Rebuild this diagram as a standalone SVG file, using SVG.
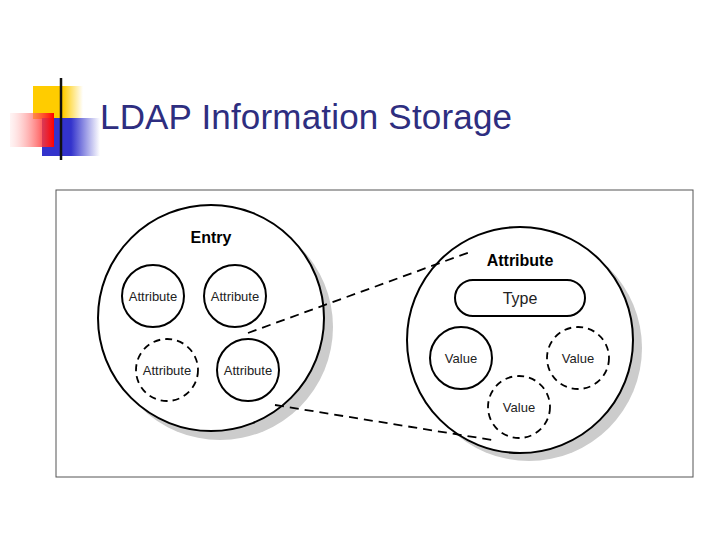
<svg xmlns="http://www.w3.org/2000/svg" width="720" height="540" viewBox="0 0 720 540">
<defs>
<linearGradient id="ln" x1="0" x2="1"><stop offset="0" stop-color="#222"/><stop offset="1" stop-color="#ddd"/></linearGradient>
<linearGradient id="rd" x1="1" x2="0"><stop offset="0" stop-color="#f00"/><stop offset="1" stop-color="#fdd" stop-opacity="0.3"/></linearGradient>
<linearGradient id="bl" x1="0" x2="1"><stop offset="0" stop-color="#33c"/><stop offset="0.5" stop-color="#33c"/><stop offset="1" stop-color="#fff"/></linearGradient>
<linearGradient id="yl" x1="0" x2="1"><stop offset="0" stop-color="#fc0"/><stop offset="0.6" stop-color="#fc0"/><stop offset="1" stop-color="#fff"/></linearGradient>
</defs>
<style>
.c{fill:#fff;stroke:#000;stroke-width:2}
.d{fill:#fff;stroke:#000;stroke-width:1.8;stroke-dasharray:7,5}
.sh{fill:#ccc}
.t{font-family:"Liberation Sans",Arial,sans-serif;font-size:13px;text-anchor:middle;fill:#222}
.tl{font-size:16px}
.b{font-family:"Liberation Sans",Arial,sans-serif;font-size:16px;font-weight:bold;text-anchor:middle}
</style>
<rect width="720" height="540" fill="#fff"/>
<g id="logo">
<rect x="33" y="86" width="50" height="33" fill="url(#yl)"/>
<rect x="42" y="118" width="58" height="38" fill="url(#bl)"/>
<rect x="10" y="113" width="44" height="34" fill="url(#rd)"/>
<line x1="61" y1="78" x2="61" y2="160" stroke="#111" stroke-width="2.5"/>
<line x1="36" y1="141" x2="700" y2="141" stroke="url(#ln)" stroke-width="2.5"/>
</g>
<text id="title" x="100" y="129" font-family="Liberation Sans,Arial,sans-serif" font-size="35" fill="#2e2e80" textLength="412">LDAP Information Storage</text>
<rect x="56" y="190" width="637" height="287" fill="#fff" stroke="#555" stroke-width="1"/>
<g id="entry">
<circle class="sh" cx="220" cy="327" r="113"/>
<circle class="c" cx="211" cy="318" r="113"/>
<text class="b" x="211" y="243">Entry</text>
</g>
<g id="attr1"><circle class="c" cx="153" cy="296" r="31"/><text class="t" x="153" y="301">Attribute</text></g>
<g id="attr2"><circle class="c" cx="235" cy="296" r="31"/><text class="t" x="235" y="301">Attribute</text></g>
<g id="attr3"><circle class="d" cx="167" cy="370" r="31"/><text class="t" x="167" y="375">Attribute</text></g>
<g id="attr4"><circle class="c" cx="248" cy="370" r="31"/><text class="t" x="248" y="375">Attribute</text></g>
<g id="attribute">
<circle class="sh" cx="529" cy="348" r="113"/>
<circle class="c" cx="520" cy="340" r="113"/>
<text class="b" x="520" y="266">Attribute</text>
</g>
<g id="type"><rect class="c" x="455" y="280" width="130" height="36" rx="18"/><text class="t tl" x="520" y="304">Type</text></g>
<g id="value1"><circle class="c" cx="461" cy="358" r="31"/><text class="t" x="461" y="363">Value</text></g>
<g id="value2"><circle class="d" cx="578" cy="358" r="31"/><text class="t" x="578" y="363">Value</text></g>
<g id="value3"><circle class="d" cx="519" cy="407" r="31"/><text class="t" x="519" y="412">Value</text></g>
<g id="connectors" fill="none" stroke="#000" stroke-width="1.8" stroke-dasharray="9,6">
<line x1="248" y1="333" x2="470" y2="252"/>
<line x1="275" y1="405" x2="492" y2="440"/>
</g>
</svg>
